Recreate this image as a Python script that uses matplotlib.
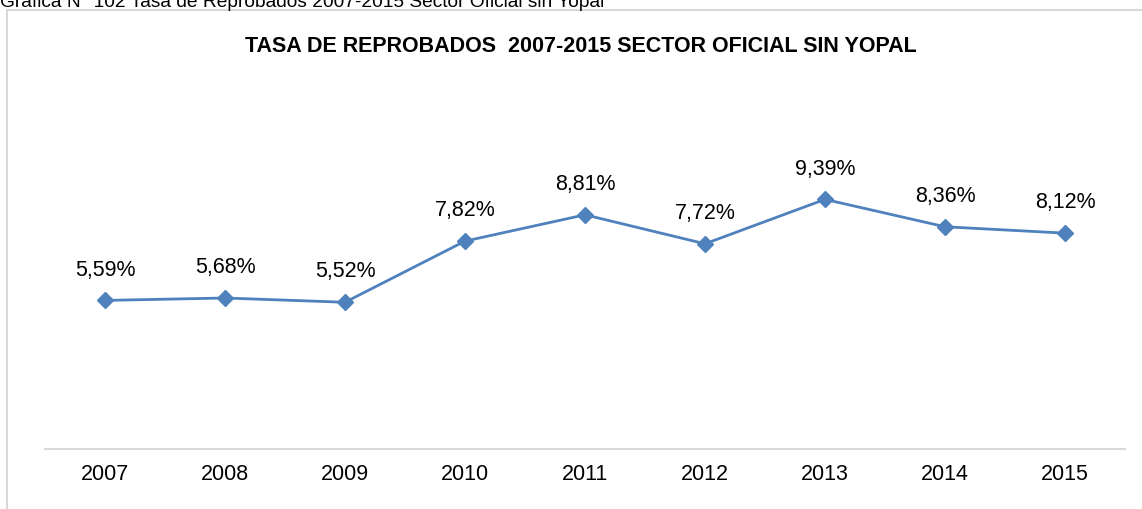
import matplotlib.pyplot as plt
from matplotlib.patches import Rectangle

plt.rcParams['font.family'] = ['Liberation Sans', 'DejaVu Sans']

years = ['2007', '2008', '2009', '2010', '2011', '2012', '2013', '2014', '2015']
tasa = [5.59, 5.68, 5.52, 7.82, 8.81, 7.72, 9.39, 8.36, 8.12]

W, H = 1142, 510
fig = plt.figure(figsize=(W / 100, H / 100), dpi=100)

# outer chart border (cut by image on right and bottom)
fig.patches.append(Rectangle((7 / W, -0.1), 1.2, 1 - 11 / H + 0.1, transform=fig.transFigure,
                             fill=False, edgecolor='#D9D9D9', linewidth=1.5))

# caption is partly cut at the top edge in the original
fig.text(0, 1 - 7 / H, 'Gráfica N° 102 Tasa de Reprobados 2007-2015 Sector Oficial sin Yopal',
         fontsize=13.8, va='baseline', ha='left')
fig.text(581 / W, 1 - 46 / H, 'TASA DE REPROBADOS  2007-2015 SECTOR OFICIAL SIN YOPAL',
         fontsize=15.5, fontweight='bold', ha='center', va='center')

ax = fig.add_axes([45 / W, (H - 450) / H, 1080 / W, (450 - 131) / H])
x = list(range(len(years)))
ax.plot(x, tasa, color='#4F81BD', linewidth=2, marker='D', markersize=8)
for xi, v in zip(x, tasa):
    ax.annotate(f'{v:.2f}%'.replace('.', ','), (xi, v), xytext=(0, 15), textcoords='offset points',
                ha='center', va='bottom', fontsize=15.5)

ax.set_xlim(-0.5, len(years) - 0.5)
ax.set_ylim(0, 12)
ax.set_xticks(x)
ax.set_xticklabels(years, fontsize=15.5)
ax.set_yticks([])
ax.tick_params(axis='x', length=0, pad=10)
for s in ['top', 'right', 'left']:
    ax.spines[s].set_visible(False)
ax.spines['bottom'].set_color('#D9D9D9')
ax.spines['bottom'].set_linewidth(1.5)

fig.savefig('out.png', dpi=100)
